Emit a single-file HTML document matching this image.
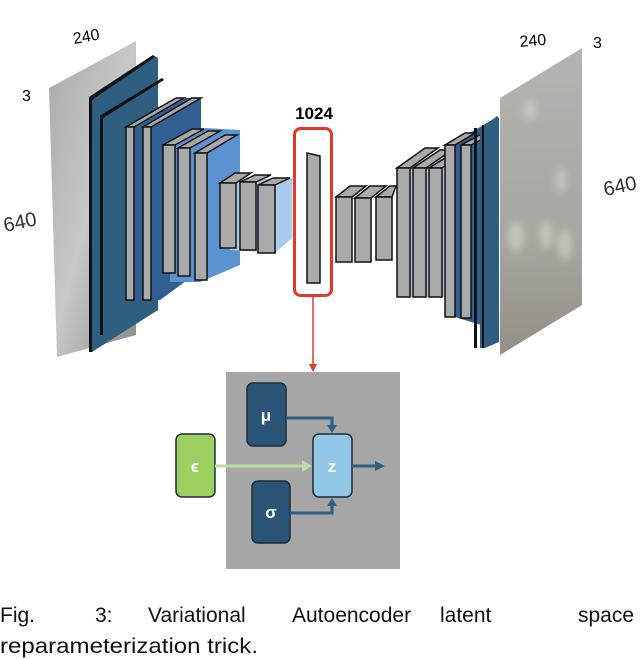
<!DOCTYPE html>
<html><head><meta charset="utf-8"><style>
html,body{margin:0;padding:0;background:#fff;}
svg{display:block;}
</style></head><body>
<svg width="640" height="659" viewBox="0 0 640 659" xmlns="http://www.w3.org/2000/svg" font-family="Liberation Sans, sans-serif">
<defs>
<linearGradient id="gin" x1="0" y1="0" x2="1" y2="1">
<stop offset="0" stop-color="#a9a9a9"/><stop offset="0.5" stop-color="#c8c8c8"/><stop offset="1" stop-color="#8a8a8a"/>
</linearGradient>
<linearGradient id="gout" x1="0" y1="0" x2="0" y2="1">
<stop offset="0" stop-color="#b4b4b0"/><stop offset="0.6" stop-color="#a8a8a2"/><stop offset="1" stop-color="#948e86"/>
</linearGradient>
<filter id="bl"><feGaussianBlur stdDeviation="4"/></filter>
</defs>
<!-- left labels -->
<text x="74" y="44" font-size="16" transform="rotate(-10 74 44)">240</text>
<text x="22" y="101" font-size="16">3</text>
<text x="5" y="232" font-size="20" transform="rotate(-12 5 232)" fill="#333">640</text>
<!-- input plane -->
<polygon points="49,88 136,41 136,335 57,357" fill="url(#gin)"/>
<!-- blue plates -->
<polygon points="89,97 153,55 158,58 158,310 92,352 89,352" fill="#2f5f80"/>
<polygon points="89,97 153,55 155,57 92,100" fill="#111"/>
<rect x="89" y="97" width="3" height="255" fill="#111"/>
<polygon points="101,115 162,78 164,80 103,118" fill="#111"/>
<rect x="100" y="115" width="3" height="220" fill="#111"/>
<!-- group 1 -->
<polygon points="130,125 185,98 201,98 201,270 160,300 130,300" fill="#315f92"/>
<g stroke="#111" stroke-width="1.5" fill="#aaa">
<polygon points="126,127 176,98 184,98 134,127"/><rect x="126" y="127" width="8" height="173"/>
<polygon points="143,127 192,98 201,98 151,127"/><rect x="143" y="127" width="8" height="173"/>
</g>
<!-- group 2 -->
<polygon points="170,145 205,128 240,130 240,265 200,282 170,282" fill="#5b92d0"/>
<g stroke="#111" stroke-width="1.5" fill="#aaa">
<polygon points="163,145 192,129 204,129 175,145"/><rect x="163" y="145" width="12" height="128"/>
<polygon points="178,148 208,131 220,131 190,148"/><rect x="178" y="148" width="12" height="128"/>
<polygon points="195,153 225,135 237,135 207,153"/><rect x="195" y="153" width="12" height="127"/>
</g>
<!-- group 3 -->
<polygon points="230,183 275,178 292,178 292,238 275,253 230,250" fill="#a9cbea"/>
<g stroke="#111" stroke-width="1.5" fill="#aaa">
<polygon points="220,183 235,173 251,173 236,183"/><rect x="220" y="183" width="16" height="65"/>
<polygon points="240,182 255,175 271,175 256,182"/><rect x="240" y="182" width="16" height="68"/>
<polygon points="258,185 273,178 290,178 275,185"/><rect x="258" y="185" width="17" height="68"/>
</g>
<!-- latent -->
<text x="314" y="119" font-size="17" font-weight="bold" text-anchor="middle">1024</text>
<rect x="294.5" y="128.5" width="37" height="167" rx="6" fill="none" stroke="#e23a2a" stroke-width="3"/>
<polygon points="307,153 320,156 320,283 307,283" fill="#aaa" stroke="#111" stroke-width="1.5"/>
<line x1="313" y1="297" x2="313" y2="366" stroke="#e23a2a" stroke-width="1.5"/>
<polygon points="309,364 317,364 313,372" fill="#e23a2a"/>
<!-- right groups -->
<g stroke="#111" stroke-width="1.5" fill="#aaa">
<polygon points="336,197 350,186 366,186 352,197"/><rect x="336" y="197" width="16" height="65"/>
<polygon points="355,198 370,186 386,186 371,198"/><rect x="355" y="198" width="16" height="64"/>
<polygon points="376,197 390,186 396,186 392,197"/><rect x="376" y="197" width="16" height="63"/>
</g>
<polygon points="410,168 440,150 445,150 445,297 410,297" fill="#a9cbea"/>
<g stroke="#111" stroke-width="1.5" fill="#aaa">
<polygon points="397,168 425,148 438,148 410,168"/><rect x="397" y="168" width="13" height="129"/>
<polygon points="413,168 440,150 452,150 426,168"/><rect x="413" y="168" width="13" height="129"/>
<polygon points="429,168 450,155 452,160 442,168"/><rect x="429" y="168" width="13" height="129"/>
</g>
<polygon points="450,145 495,118 497,118 497,330 455,317 450,317" fill="#315f92"/>
<g stroke="#111" stroke-width="1.5" fill="#aaa">
<polygon points="445,145 465,133 475,133 455,145"/><rect x="445" y="145" width="10" height="172"/>
<polygon points="461,145 480,135 490,135 471,145"/><rect x="461" y="145" width="10" height="173"/>
</g>
<polygon points="480,130 497,116 499,118 499,342 485,348 480,348" fill="#2f5f80"/>
<rect x="474" y="128" width="3" height="220" fill="#111"/>
<rect x="482" y="125" width="2" height="223" fill="#111"/>
<!-- output plane -->
<polygon points="500,98 582,48 582,305 500,355" fill="url(#gout)"/>
<g filter="url(#bl)" fill="#d8d8cc" opacity="0.6">
<ellipse cx="516" cy="237" rx="8" ry="15"/>
<ellipse cx="546" cy="235" rx="6" ry="14"/>
<ellipse cx="565" cy="245" rx="7" ry="15"/>
<ellipse cx="561" cy="180" rx="5" ry="12"/>
<ellipse cx="530" cy="110" rx="6" ry="10"/>
</g>
<text x="520" y="47" font-size="16" transform="rotate(-5 520 47)">240</text>
<text x="593" y="48" font-size="16">3</text>
<text x="605" y="196" font-size="20" transform="rotate(-12 605 196)" fill="#333">640</text>
<!-- latent block -->
<rect x="226" y="372" width="174" height="197" fill="#a6a6a6"/>
<rect x="247" y="383" width="39" height="63" rx="6" fill="#2a5577" stroke="#1d2b38" stroke-width="1.5"/>
<rect x="176" y="434" width="39" height="63" rx="6" fill="#9bcf5f" stroke="#1d2b38" stroke-width="1.5"/>
<rect x="313" y="434" width="39" height="63" rx="6" fill="#92c6e6" stroke="#1d2b38" stroke-width="1.5"/>
<rect x="252" y="481" width="38" height="62" rx="6" fill="#2a5577" stroke="#1d2b38" stroke-width="1.5"/>
<g stroke="#2f5f80" stroke-width="3" fill="none">
<polyline points="286,418 332,418 332,427"/>
<polyline points="290,513 332,513 332,505"/>
<line x1="352" y1="466" x2="376" y2="466"/>
</g>
<polygon points="327,425 337,425 332,433" fill="#2f5f80"/>
<polygon points="327,506 337,506 332,498" fill="#2f5f80"/>
<polygon points="375,461 385,466 375,471" fill="#2f5f80"/>
<line x1="215" y1="466" x2="303" y2="466" stroke="#b9e0a0" stroke-width="3"/>
<polygon points="302,460 312,466 302,472" fill="#b9e0a0"/>
<g fill="#fff" font-size="17" text-anchor="middle" font-weight="bold">
<text x="266" y="421">μ</text>
<text x="195" y="472">ϵ</text>
<text x="332" y="472">z</text>
<text x="271" y="518">σ</text>
</g>
<!-- caption -->
<g font-size="21" fill="#111">
<text x="0" y="622">Fig.</text>
<text x="95" y="622">3:</text>
<text x="148" y="622">Variational</text>
<text x="292" y="622">Autoencoder</text>
<text x="440" y="622">latent</text>
<text x="578" y="622">space</text>
<text x="0" y="653" textLength="258" lengthAdjust="spacingAndGlyphs">reparameterization trick.</text>
</g>
</svg>
</body></html>
